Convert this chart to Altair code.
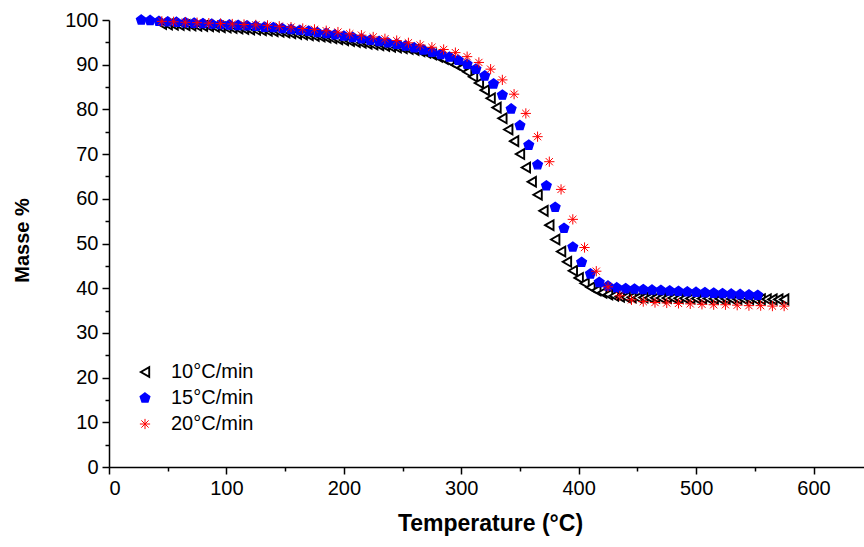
import altair as alt
import pandas as pd

# ---------------- data ----------------
series_names = ["10°C/min", "15°C/min", "20°C/min"]

temp_10 = [45, 50, 55, 60, 65, 70, 75, 80, 85, 90,
           95, 100, 105, 110, 115, 120, 125, 130, 135, 140,
           145, 150, 155, 160, 165, 170, 175, 180, 185, 190,
           195, 200, 205, 210, 215, 220, 225, 230, 235, 240,
           245, 250, 255, 260, 265, 270, 275, 280, 285, 290,
           295, 300, 305, 310, 315, 320, 325, 330, 335, 340,
           345, 350, 355, 360, 365, 370, 375, 380, 385, 390,
           395, 400, 405, 410, 415, 420, 425, 430, 435, 440,
           445, 450, 455, 460, 465, 470, 475, 480, 485, 490,
           495, 500, 505, 510, 515, 520, 525, 530, 535, 540,
           545, 550, 555, 560, 565, 570, 575]
mass_10 = [99.1, 99.0, 98.95, 98.9, 98.85, 98.8, 98.7, 98.65, 98.6, 98.5,
           98.4, 98.3, 98.2, 98.1, 98.0, 97.9, 97.8, 97.7, 97.6, 97.5,
           97.35, 97.2, 97.05, 96.9, 96.75, 96.6, 96.45, 96.3, 96.1, 95.9,
           95.7, 95.5, 95.3, 95.1, 94.9, 94.7, 94.5, 94.35, 94.2, 94.0,
           93.85, 93.7, 93.5, 93.3, 93.0, 92.7, 92.3, 91.8, 91.3, 90.7,
           90.0, 89.3, 88.4, 87.3, 85.9, 84.3, 82.5, 80.4, 78.0, 75.5,
           72.9, 70.0, 67.0, 63.8, 60.9, 57.3, 54.1, 50.9, 48.2, 45.9,
           43.9, 42.3, 41.1, 40.2, 39.5, 39.0, 38.6, 38.3, 38.1, 38.0,
           37.95, 37.9, 37.9, 37.85, 37.85, 37.8, 37.8, 37.8, 37.75, 37.75,
           37.7, 37.7, 37.7, 37.7, 37.65, 37.65, 37.65, 37.6, 37.6, 37.6,
           37.6, 37.55, 37.55, 37.55, 37.5, 37.5, 37.5]

temp_15 = [27.5, 35, 42.5, 50, 57.5, 65, 72.5, 80, 87.5, 95,
           102.5, 110, 117.5, 125, 132.5, 140, 147.5, 155, 162.5, 170,
           177.5, 185, 192.5, 200, 207.5, 215, 222.5, 230, 237.5, 245,
           252.5, 260, 267.5, 275, 282.5, 290, 297.5, 305, 312.5, 320,
           327.5, 335, 342.5, 350, 357.5, 365, 372.5, 380, 387.5, 395,
           402.5, 410, 417.5, 425, 432.5, 440, 447.5, 455, 462.5, 470,
           477.5, 485, 492.5, 500, 507.5, 515, 522.5, 530, 537.5, 545,
           552.5]
mass_15 = [100.0, 99.9, 99.7, 99.6, 99.5, 99.4, 99.3, 99.2, 99.1, 99.0,
           98.9, 98.8, 98.7, 98.6, 98.4, 98.3, 98.1, 97.9, 97.7, 97.5,
           97.2, 97.0, 96.7, 96.4, 96.1, 95.8, 95.5, 95.2, 94.9, 94.6,
           94.2, 93.8, 93.3, 92.8, 92.3, 91.7, 91.0, 90.1, 89.0, 87.5,
           85.7, 83.2, 80.1, 76.4, 72.0, 67.6, 62.9, 58.1, 53.4, 49.2,
           45.8, 43.2, 41.3, 40.5, 40.1, 39.9, 39.8, 39.7, 39.6, 39.5,
           39.4, 39.3, 39.2, 39.1, 39.0, 38.9, 38.8, 38.7, 38.6, 38.5,
           38.4]

temp_20 = [45, 55, 65, 75, 85, 95, 105, 115, 125, 135,
           145, 155, 165, 175, 185, 195, 205, 215, 225, 235,
           245, 255, 265, 275, 285, 295, 305, 315, 325, 335,
           345, 355, 365, 375, 385, 395, 405, 415, 425, 435,
           445, 455, 465, 475, 485, 495, 505, 515, 525, 535,
           545, 555, 565, 575]
mass_20 = [99.7, 99.6, 99.5, 99.4, 99.3, 99.2, 99.1, 99.0, 98.9, 98.8,
           98.6, 98.4, 98.1, 97.9, 97.6, 97.3, 96.9, 96.6, 96.2, 95.8,
           95.4, 94.9, 94.4, 93.9, 93.4, 92.7, 91.8, 90.5, 89.0, 86.6,
           83.4, 79.1, 73.9, 68.3, 62.1, 55.4, 49.1, 43.8, 40.3, 38.3,
           37.4, 37.0, 36.8, 36.7, 36.6, 36.5, 36.4, 36.3, 36.3, 36.2,
           36.1, 36.1, 36.0, 36.0]

x_major = [0, 100, 200, 300, 400, 500, 600]
x_minor = [50, 150, 250, 350, 450, 550]
y_major = [0, 10, 20, 30, 40, 50, 60, 70, 80, 90, 100]
y_minor = [5, 15, 25, 35, 45, 55, 65, 75, 85, 95]

rows = []
for name, ts, ms in zip(series_names, [temp_10, temp_15, temp_20],
                        [mass_10, mass_15, mass_20]):
    for t, m in zip(ts, ms):
        rows.append({"T": t, "M": m, "series": name})
df = pd.DataFrame(rows)

PENT = "M0,-1L0.951,-0.309L0.588,0.809L-0.588,0.809L-0.951,-0.309Z"
AST = "M-1,0L1,0M0,-1L0,1M-0.707,-0.707L0.707,0.707M-0.707,0.707L0.707,-0.707"

FONT = "Arial, Liberation Sans, sans-serif"

xscale = alt.Scale(domain=[0, 643], nice=False, zero=False)
yscale = alt.Scale(domain=[0, 100], nice=False)

legend = alt.Legend(
    title=None, orient="none", legendX=26, legendY=342,
    labelFontSize=20, labelFont=FONT, labelColor="black",
    labelOffset=16, rowPadding=6, padding=0,
)

main = alt.Chart(df).mark_point(opacity=1).encode(
    x=alt.X("T:Q", scale=xscale, axis=alt.Axis(
        values=x_major, orient="bottom", grid=False, tickSize=7,
        labelFontSize=20, labelPadding=4, labelFont=FONT,
        title="Temperature (°C)", titleFontSize=23, titleFont=FONT,
        titleFontWeight="bold", titleX=381, titleY=56,
        titleAlign="center", titleBaseline="middle")),
    y=alt.Y("M:Q", scale=yscale, axis=alt.Axis(
        values=y_major, orient="left", grid=False, tickSize=7,
        labelFontSize=20, labelPadding=4, labelFont=FONT,
        title="Masse %", titleFontSize=20, titleFont=FONT,
        titleFontWeight="bold", titleX=-87, titleY=220,
        titleAlign="center", titleBaseline="middle", titleAngle=-90)),
    shape=alt.Shape("series:N", scale=alt.Scale(domain=series_names,
                    range=["triangle-left", PENT, AST]), legend=legend),
    fill=alt.Fill("series:N", scale=alt.Scale(domain=series_names,
                  range=["white", "#0000ff", "#ff0000"]), legend=legend),
    stroke=alt.Stroke("series:N", scale=alt.Scale(domain=series_names,
                      range=["black", "#0000ff", "#ff0000"]), legend=legend),
    size=alt.Size("series:N", scale=alt.Scale(domain=series_names,
                  range=[95, 105, 125]), legend=legend),
    strokeWidth=alt.StrokeWidth("series:N", scale=alt.Scale(
        domain=series_names, range=[1.9, 1.0, 2.0]), legend=legend),
)

minor = alt.Chart(df).mark_point(opacity=0).encode(
    x=alt.X("T:Q", scale=xscale, axis=alt.Axis(
        values=x_minor, orient="bottom", labels=False, domain=False,
        grid=False, tickSize=4, title=None)),
    y=alt.Y("M:Q", scale=yscale, axis=alt.Axis(
        values=y_minor, orient="left", labels=False, domain=False,
        grid=False, tickSize=4, title=None)),
)

chart = alt.layer(main, minor).resolve_axis(
    x="independent", y="independent"
).properties(
    width=755, height=447,
    autosize=alt.AutoSizeParams(type="none"),
    padding={"left": 109, "top": 20, "right": 0, "bottom": 80},
).configure_view(stroke=None).configure_axis(
    domainColor="black", tickColor="black", labelColor="black",
    titleColor="black", domainWidth=1.5, tickWidth=1.5,
)

chart.save("out.html", embed_options={"renderer": "svg", "actions": False})
